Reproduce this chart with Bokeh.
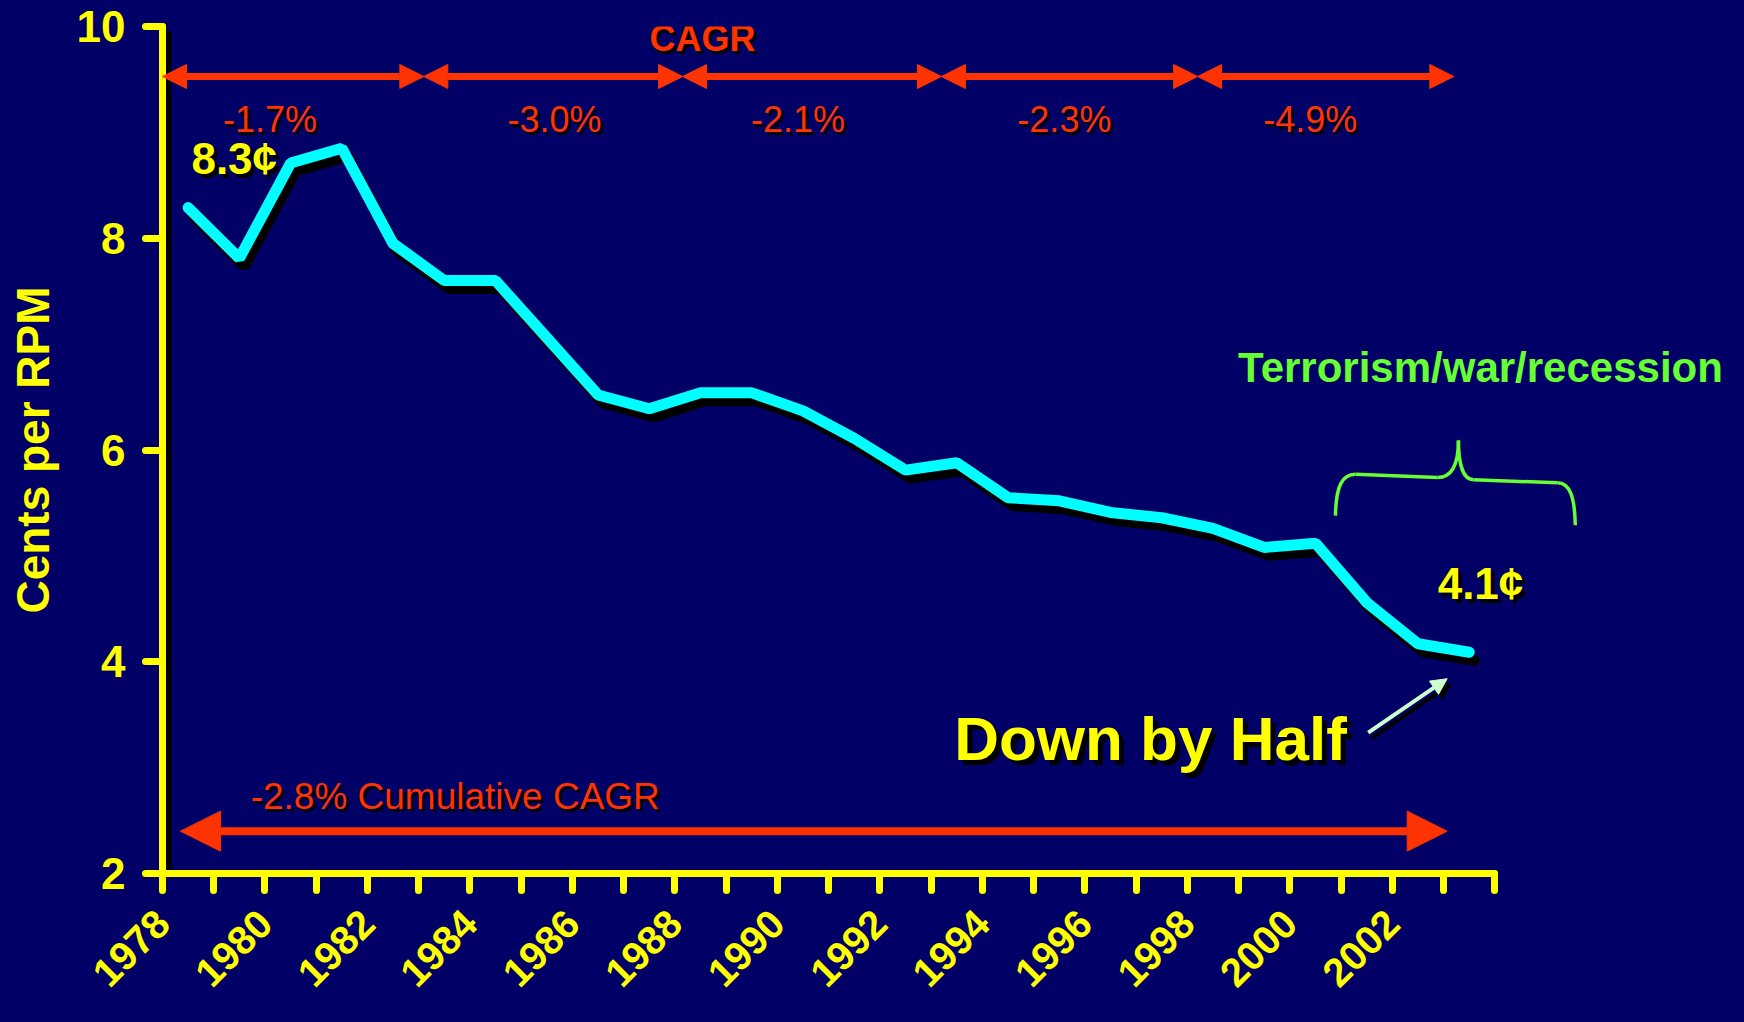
import numpy as np
from bokeh.plotting import figure
from bokeh.models import Range1d, FixedTicker, Arrow, NormalHead
from bokeh.core.properties import value
from bokeh.embed import file_html
from bokeh.resources import INLINE

# ---------------- data ----------------
years = list(range(1978, 2004))
cents = [8.29, 7.81, 8.71, 8.85, 7.95, 7.60, 7.60, 7.06, 6.52, 6.39,
         6.54, 6.54, 6.37, 6.11, 5.81, 5.88, 5.55, 5.52, 5.41, 5.36,
         5.26, 5.08, 5.12, 4.56, 4.17, 4.09]

tick_positions = [1977.5 + i for i in range(27)]
label_years = [1978, 1980, 1982, 1984, 1986, 1988, 1990, 1992, 1994,
               1996, 1998, 2000, 2002]
y_ticks = [2, 4, 6, 8, 10]

period_bounds = [1977.5, 1982.6, 1987.65, 1992.7, 1997.7, 2002.7]
period_cagr = ["-1.7%", "-3.0%", "-2.1%", "-2.3%", "-4.9%"]
period_label_x = [1979.6, 1985.15, 1989.9, 1995.1, 1999.9]

cumulative_label = "-2.8% Cumulative CAGR"
start_label = "8.3\u00a2"
end_label = "4.1\u00a2"

# ---------------- style ----------------
BG = "#000066"
YEL = "#FFFF00"
CYAN = "#00FFFF"
RED = "#FF3300"
GREEN = "#66FF33"
MINT = "#CCFFCC"
FONT = "Liberation Sans"

W, H = 1728, 1016
BL, BR, BT, BB = 162, 0, 26, 143
X0, X1 = 1977.5, 2008.06
Y0, Y1 = 2, 10
dxpx = (X1 - X0) / (W - BL - BR)
dypx = (Y1 - Y0) / (H - BT - BB)

p = figure(width=W, height=H, x_range=Range1d(X0, X1), y_range=Range1d(Y0, Y1),
           output_backend="svg", toolbar_location=None,
           min_border_left=BL, min_border_right=BR, min_border_top=BT,
           min_border_bottom=BB,
           background_fill_color=BG, border_fill_color=BG, outline_line_color=None)
p.grid.visible = False

# x axis
xa = p.xaxis[0]
xa.ticker = FixedTicker(ticks=tick_positions)
xa.major_label_overrides = {t: (str(int(t + 0.5)) if int(t + 0.5) in label_years else "")
                            for t in tick_positions}
xa.bounds = (tick_positions[0], tick_positions[-1])
xa.major_label_orientation = np.pi / 4
xa.axis_line_color = YEL
xa.axis_line_width = 7
xa.axis_line_cap = "round"
xa.major_tick_line_color = YEL
xa.major_tick_line_width = 7
xa.major_tick_line_cap = "round"
xa.major_tick_out = 17
xa.major_tick_in = 0
xa.minor_tick_line_color = None
xa.major_label_text_font = FONT
xa.major_label_text_font_style = "bold"
xa.major_label_text_font_size = "40px"
xa.major_label_text_color = YEL
xa.major_label_standoff = 26

# y axis
ya = p.yaxis[0]
ya.ticker = FixedTicker(ticks=y_ticks)
ya.bounds = (Y0, Y1)
ya.axis_line_color = YEL
ya.axis_line_width = 7
ya.axis_line_cap = "round"
ya.major_tick_line_color = YEL
ya.major_tick_line_width = 7
ya.major_tick_line_cap = "round"
ya.major_tick_out = 17
ya.major_tick_in = 0
ya.minor_tick_line_color = None
ya.major_label_text_font = FONT
ya.major_label_text_font_style = "bold"
ya.major_label_text_font_size = "44px"
ya.major_label_text_color = YEL
ya.major_label_standoff = 20
ya.axis_label = "Cents per RPM"
ya.axis_label_text_font = FONT
ya.axis_label_text_font_style = "bold"
ya.axis_label_text_font_size = "46px"
ya.axis_label_text_color = YEL
ya.axis_label_standoff = 15


def stext(x, y, text, color, size, bold=True, align="center", off=4):
    lift = -round(0.28 * size)
    for c, o in (("black", off), (color, 0)):
        if c == "black" and o == 0:
            continue
        p.text(x=[x], y=[y], text=[text], text_color=c,
               text_font=value(FONT), text_font_size=f"{size}px",
               text_font_style="bold" if bold else "normal",
               text_align=align, text_baseline="alphabetic",
               x_offset=o, y_offset=o + lift)


# shadow of the value axis (inside the frame)
p.segment(x0=[X0 + 6 * dxpx], y0=[Y1 - 5 * dypx], x1=[X0 + 6 * dxpx], y1=[Y0],
          line_color="black", line_width=6)

# ---------------- main line ----------------
p.line([x + 5 * dxpx for x in years], [v - 8 * dypx for v in cents],
       line_color="black", line_width=11, line_cap="round")
p.line(years, cents, line_color=CYAN, line_width=11, line_cap="round")

# ---------------- period CAGR arrows ----------------
ARROW_Y = 9.528
for i in range(len(period_cagr)):
    p.add_layout(Arrow(
        x_start=period_bounds[i], y_start=ARROW_Y,
        x_end=period_bounds[i + 1], y_end=ARROW_Y,
        start=NormalHead(size=24, fill_color=RED, line_color=RED, line_width=1),
        end=NormalHead(size=24, fill_color=RED, line_color=RED, line_width=1),
        line_color=RED, line_width=7))
    stext(period_label_x[i], 9.027, period_cagr[i], RED, 36, bold=False, off=3)

stext(1988.04, 9.79, "CAGR", RED, 36, bold=True, off=3)

# ---------------- cumulative arrow ----------------
p.add_layout(Arrow(
    x_start=1977.85, y_start=2.40, x_end=2002.57, y_end=2.40,
    start=NormalHead(size=40, fill_color=RED, line_color=RED, line_width=1),
    end=NormalHead(size=40, fill_color=RED, line_color=RED, line_width=1),
    line_color=RED, line_width=8))
stext(1979.22, 2.635, cumulative_label, RED, 37, bold=False, align="left", off=3)

# ---------------- value labels ----------------
stext(1978.9, 8.64, start_label, YEL, 44, off=4)
stext(2003.22, 4.627, end_label, YEL, 44, off=4)

# ---------------- Down by Half ----------------
stext(1996.78, 3.116, "Down by Half", YEL, 62, off=5)
for c, ox, oy in (("black", 4, 5), (MINT, 0, 0)):
    p.add_layout(Arrow(
        x_start=2001.03 + ox * dxpx, y_start=3.33 - oy * dypx,
        x_end=2002.57 + ox * dxpx, y_end=3.84 - oy * dypx,
        end=NormalHead(size=16, fill_color=c, line_color=c, line_width=1),
        line_color=c, line_width=4))

# ---------------- terrorism brace ----------------
stext(2003.22, 6.667, "Terrorism/war/recession", GREEN, 42, off=0)
bz = dict(line_color=GREEN, line_width=3.5)
p.bezier(x0=[2000.39], y0=[5.38], x1=[2000.78], y1=[5.77],
         cx0=[2000.40], cy0=[5.66], cx1=[2000.52], cy1=[5.77], **bz)
p.segment(x0=[2000.78], y0=[5.77], x1=[2002.38], y1=[5.74], **bz)
p.bezier(x0=[2002.38], y0=[5.74], x1=[2002.79], y1=[6.09],
         cx0=[2002.70], cy0=[5.74], cx1=[2002.79], cy1=[5.90], **bz)
p.bezier(x0=[2002.79], y0=[6.09], x1=[2003.08], y1=[5.72],
         cx0=[2002.79], cy0=[5.90], cx1=[2002.86], cy1=[5.72], **bz)
p.segment(x0=[2003.08], y0=[5.72], x1=[2004.72], y1=[5.69], **bz)
p.bezier(x0=[2004.72], y0=[5.69], x1=[2005.07], y1=[5.29],
         cx0=[2004.97], cy0=[5.69], cx1=[2005.06], cy1=[5.55], **bz)

html = file_html(p, INLINE)
html = html.replace("<head>", "<head><style>html, body { background: #000066; }</style>", 1)
open("out.html", "w").write(html)
